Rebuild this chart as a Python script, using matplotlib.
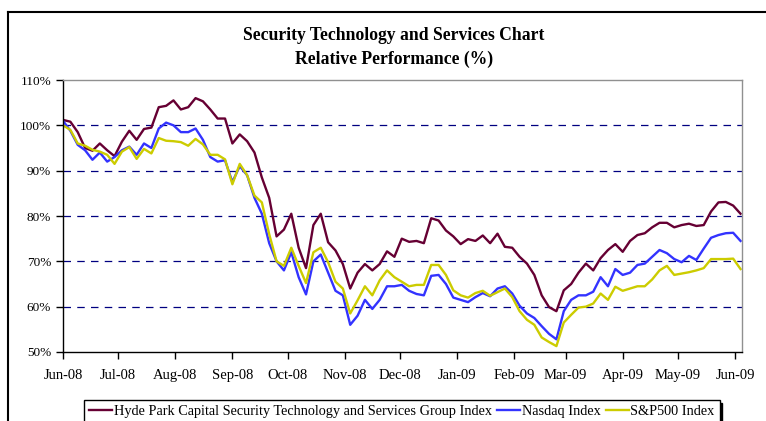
import numpy as np
import pandas as pd
import matplotlib
matplotlib.use("Agg")
import matplotlib.pyplot as plt
import matplotlib.dates as mdates
from matplotlib.lines import Line2D

plt.rcParams['font.family'] = ['Liberation Serif', 'DejaVu Serif']

# readings every 4 days starting 1 Jun 2008
start = "2008-06-01"
n_pts = 93

hyde_park = [101.2, 100.8, 98.5, 95.0, 94.4, 96.0, 94.5, 93.2, 96.4, 98.8,
             96.8, 99.2, 99.5, 104.0, 104.3, 105.5, 103.5, 104.0, 106.0, 105.3,
             103.5, 101.5, 101.5, 96.0, 98.0, 96.5, 94.0, 88.5, 84.0, 75.5,
             77.0, 80.5, 73.0, 68.5, 78.0, 80.5, 74.2, 72.4, 69.4, 64.0,
             67.5, 69.4, 68.0, 69.4, 72.2, 71.0, 75.0, 74.3, 74.5, 74.0,
             79.5, 79.0, 76.8, 75.5, 73.8, 74.9, 74.5, 75.7, 74.0, 76.1,
             73.2, 73.0, 71.0, 69.5, 67.0, 62.5, 59.9, 59.0, 63.6, 65.0,
             67.5, 69.5, 68.0, 70.7, 72.5, 73.8, 72.1, 74.5, 75.8, 76.2,
             77.5, 78.5, 78.5, 77.5, 78.0, 78.3, 77.8, 78.0, 81.0, 83.0,
             83.1, 82.3, 80.5]

nasdaq = [101.0, 98.8, 95.7, 94.5, 92.4, 94.0, 92.0, 93.0, 94.5, 95.3,
          93.5, 96.0, 95.0, 99.3, 100.6, 100.0, 98.5, 98.5, 99.3, 96.8,
          93.0, 92.0, 92.3, 87.5, 91.0, 89.0, 84.0, 80.5, 74.0, 70.0,
          68.0, 72.0, 66.5, 62.7, 70.0, 71.5, 67.5, 63.5, 62.5, 56.0,
          58.0, 61.5, 59.5, 61.5, 64.5, 64.5, 64.8, 63.5, 62.8, 62.5,
          66.8, 67.0, 65.0, 62.0, 61.5, 61.0, 62.1, 63.0, 62.3, 64.0,
          64.5, 62.9, 60.2, 58.5, 57.5, 55.7, 54.0, 52.8, 59.0, 61.5,
          62.5, 62.5, 63.3, 66.5, 64.5, 68.3, 67.0, 67.5, 69.2, 69.5,
          71.0, 72.5, 71.8, 70.5, 69.8, 71.2, 70.3, 72.8, 75.2, 75.8,
          76.2, 76.3, 74.5]

sp500 = [100.0, 99.0, 96.0, 95.5, 94.6, 94.2, 93.5, 91.5, 94.2, 95.2,
         92.6, 94.8, 93.8, 97.2, 96.6, 96.5, 96.3, 95.5, 97.0, 95.8,
         93.5, 93.5, 92.5, 87.0, 91.5, 89.0, 84.5, 83.0, 76.0, 70.0,
         69.0, 73.0, 69.0, 65.2, 72.0, 73.0, 69.8, 65.5, 64.0, 58.5,
         61.4, 64.5, 62.5, 65.8, 68.0, 66.5, 65.5, 64.5, 64.8, 64.8,
         69.2, 69.2, 67.0, 63.6, 62.5, 62.0, 63.0, 63.5, 62.4, 63.2,
         64.0, 62.1, 59.0, 57.1, 56.0, 53.2, 52.2, 51.3, 56.5, 58.2,
         59.8, 60.0, 60.7, 62.9, 61.5, 64.4, 63.5, 64.0, 64.5, 64.5,
         66.0, 68.0, 69.0, 67.0, 67.3, 67.6, 68.0, 68.5, 70.5, 70.5,
         70.5, 70.6, 68.3]

labels = ["Hyde Park Capital Security Technology and Services Group Index",
          "Nasdaq Index", "S&P500 Index"]
colors = ["#660033", "#3333FF", "#CCCC00"]

dates = pd.date_range(start, periods=n_pts, freq="4D")

fig = plt.figure(figsize=(7.66, 4.21), dpi=100)
ax = fig.add_axes([63/766, 1-352/421, (742-63)/766, (352-80)/421])

for vals, col, lab in zip([hyde_park, nasdaq, sp500], colors, labels):
    ax.plot(dates, vals, color=col, lw=1.7, label=lab)

ax.set_ylim(50, 110)
ax.set_yticks(np.arange(50, 111, 10))
ax.set_yticklabels([f"{v}%" for v in range(50, 111, 10)])
for v in range(60, 101, 10):
    ax.axhline(v, color="#000080", lw=0.9, ls=(0, (6, 5)), zorder=0)

x0 = pd.Timestamp(start)
ax.set_xlim(x0, x0 + pd.Timedelta(days=368.8))
ax.xaxis.set_major_locator(mdates.MonthLocator())
ax.xaxis.set_major_formatter(mdates.DateFormatter("%b-%y"))

ax.tick_params(axis="both", direction="out", length=5, width=1, colors="black")
ax.tick_params(axis="y", labelsize=9.5)
ax.tick_params(axis="x", labelsize=10.5, pad=7)
for s in ["left", "bottom"]:
    ax.spines[s].set_color("black")
    ax.spines[s].set_linewidth(1)
for s in ["top", "right"]:
    ax.spines[s].set_color("#909090")
    ax.spines[s].set_linewidth(1)

fig.text(394/766, 1-36/421, "Security Technology and Services Chart",
         ha="center", va="center", fontsize=12.7, fontweight="bold")
fig.text(394/766, 1-59/421, "Relative Performance (%)",
         ha="center", va="center", fontsize=12.7, fontweight="bold")

# outer chart frame
fig.add_artist(Line2D([8/766, 1], [1-12/421, 1-12/421], color="black", lw=1.5))
fig.add_artist(Line2D([8/766, 8/766], [1-12/421, 0], color="black", lw=1.5))

leg = fig.legend(loc="upper center", bbox_to_anchor=(402/766, 1-400/421), ncol=3,
                 fontsize=10.3, frameon=True, fancybox=False,
                 shadow={"color": "black", "alpha": 1}, borderpad=0.35,
                 handlelength=1.6, handletextpad=0.1, columnspacing=0.4,
                 borderaxespad=0)
leg.get_frame().set_edgecolor("black")
leg.get_frame().set_linewidth(1)

fig.savefig("out.png", dpi=100)
